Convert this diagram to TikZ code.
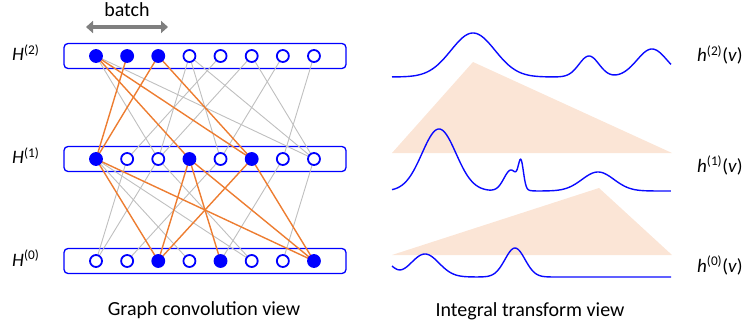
\documentclass[tikz,border=0pt]{standalone}
\usepackage{fontspec}
\setmainfont{Carlito}
\usetikzlibrary{arrows.meta}
\definecolor{nodeblue}{RGB}{0,0,255}
\definecolor{edgeorange}{RGB}{237,125,49}
\definecolor{edgegray}{RGB}{191,191,191}
\definecolor{conepeach}{RGB}{251,229,214}
\definecolor{batchgray}{RGB}{127,127,127}
\definecolor{curveblue}{RGB}{10,10,255}
\pgfdeclarelayer{boxlayer}
\pgfdeclarelayer{edgelayer}
\pgfsetlayers{boxlayer,edgelayer,main}
\begin{document}
\begin{tikzpicture}[x=1pt,y=-1pt,
  openunit/.style={circle,draw=nodeblue,line width=1.8pt,minimum size=12pt,inner sep=0pt,fill=white},
  fullunit/.style={openunit,fill=nodeblue},
  layerbox/.style={draw=nodeblue,line width=1.3pt,rounded corners=4pt,minimum width=282pt,minimum height=25pt,inner sep=0pt,fill=white},
  grayedge/.style={draw=edgegray,line width=0.9pt},
  orangeedge/.style={draw=edgeorange,line width=1.4pt},
  lbl/.style={font=\fontsize{19}{22}\selectfont,inner sep=0pt},
  caption/.style={font=\fontsize{20}{24}\selectfont,inner sep=0pt},
  signal/.style={draw=curveblue,line width=1.4pt,line join=round},
  cone/.style={fill=conepeach},
  batcharrow/.style={draw=batchgray,line width=4pt,{Triangle[length=7pt,width=12pt]}-{Triangle[length=7pt,width=12pt]}},
  declare function={gs(\t,\m,\s)=exp(-min(0.5*((\t-\m)/\s)^2,12));}
]
\useasboundingbox (0,0) rectangle (748,329);

% ---------- left: graph convolution layers ----------
\foreach \i/\st in {0/fullunit,1/fullunit,2/fullunit,3/openunit,4/openunit,5/openunit,6/openunit,7/openunit}
  \node[\st] (T\i) at ({96+31.14*\i},56) {};
\foreach \i/\st in {0/fullunit,1/openunit,2/openunit,3/fullunit,4/openunit,5/fullunit,6/openunit,7/openunit}
  \node[\st] (M\i) at ({96+31.14*\i},159) {};
\foreach \i/\st in {0/openunit,1/openunit,2/fullunit,3/openunit,4/fullunit,5/openunit,6/openunit,7/fullunit}
  \node[\st] (B\i) at ({96+31.14*\i},261) {};

\begin{pgfonlayer}{boxlayer}
  \node[layerbox] (box2) at (205,56) {};
  \node[layerbox] (box1) at (205,159) {};
  \node[layerbox] (box0) at (205,261) {};
\end{pgfonlayer}

\begin{pgfonlayer}{edgelayer}
  \foreach \a/\b in {T0/M2,T0/M7,T3/M2,T3/M4,T3/M7,T4/M1,T5/M2,T5/M7,T6/M4,T7/M6,
                     M0/B3,M0/B5,M1/B0,M2/B0,M2/B5,M4/B1,M6/B4,M7/B6}
    \draw[grayedge] (\a.center) -- (\b.center);
  \foreach \a/\b in {T0/M3,T0/M5,T1/M0,T2/M0,T2/M5,
                     M0/B2,M0/B7,M3/B2,M3/B4,M3/B7,M5/B2,M5/B7}
    \draw[orangeedge] (\a.center) -- (\b.center);
\end{pgfonlayer}

\node[lbl,anchor=base west] (H2) at (12,61) {\textit{H}\textsuperscript{(2)}};
\node[lbl,anchor=base west] (H1) at (12,164) {\textit{H}\textsuperscript{(1)}};
\node[lbl,anchor=base west] (H0) at (12,266) {\textit{H}\textsuperscript{(0)}};

% batch extent
\coordinate (bl) at (86,27);
\coordinate (br) at (168,27);
\draw[batcharrow] (bl) -- (br);
\node[caption,anchor=base] (batch) at (127,17) {batch};

\node[caption,anchor=base] (capL) at (204,315) {Graph convolution view};

% ---------- right: integral transform ----------
\fill[cone] (392,153) -- (473,62) -- (672,153) -- cycle;
\fill[cone] (392,255) -- (599,188) -- (672,255) -- cycle;

\draw[signal] plot[domain=392:671,samples=240]
  (\x,{77-44*gs(\x,473,22)-21*gs(\x,589,10)-28*gs(\x,652,15)});
\draw[signal] plot[domain=392:671,samples=400]
  (\x,{191-62*gs(\x,439,17)-21*gs(\x,511,7)-24*gs(\x,521,2.5)-19*gs(\x,598,16)});
\draw[signal] plot[domain=392:671,samples=240]
  (\x,{277-14*gs(\x,385,8)-23*gs(\x,425,14)-29*gs(\x,515,10)});

\node[lbl,anchor=base west] (h2) at (697,62) {\textit{h}\textsuperscript{(2)}(\textit{v})};
\node[lbl,anchor=base west] (h1) at (697,172) {\textit{h}\textsuperscript{(1)}(\textit{v})};
\node[lbl,anchor=base west] (h0) at (697,272) {\textit{h}\textsuperscript{(0)}(\textit{v})};

\node[caption,anchor=base] (capR) at (530,316) {Integral transform view};
\end{tikzpicture}
\end{document}
